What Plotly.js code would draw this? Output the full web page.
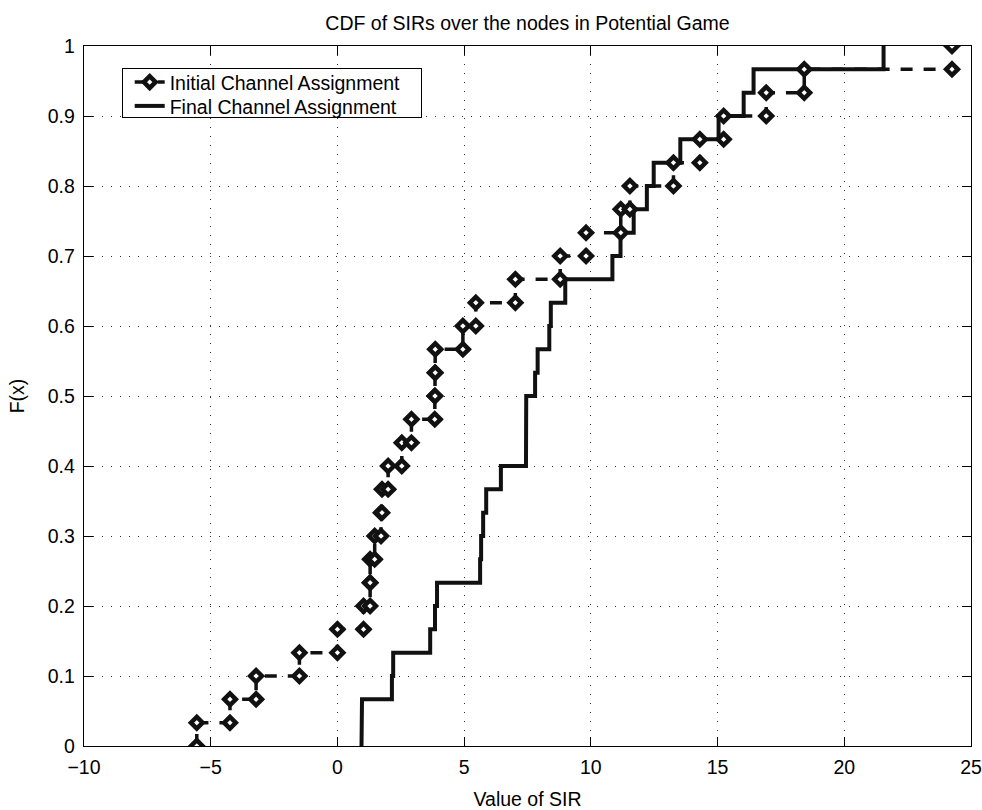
<!DOCTYPE html>
<html>
<head>
<meta charset="utf-8">
<script src="https://cdn.plot.ly/plotly-3.0.1.min.js"></script>
<style>html,body{margin:0;padding:0;background:#fff;}#chart{width:982px;height:810px;}</style>
</head>
<body>
<div id="chart"></div>
<script>
// Sorted SIR samples (30 nodes)
const initialSIR = [-5.55, -4.24, -3.21, -1.5, 0.0, 1.03, 1.29, 1.29, 1.47, 1.72,
                    1.76, 2.0, 2.54, 2.92, 3.84, 3.85, 3.86, 4.95, 5.46, 7.02,
                    8.79, 9.81, 11.18, 11.54, 13.26, 14.3, 15.24, 16.92, 18.42, 24.25];
const finalSIR = [0.95, 0.97, 2.15, 2.2, 3.66, 3.85, 3.93, 5.63, 5.67, 5.75,
                  5.87, 6.45, 7.44, 7.44, 7.45, 7.8, 7.9, 8.36, 8.42, 8.99,
                  10.85, 11.17, 11.69, 12.21, 12.48, 13.53, 15.04, 16.03, 16.42, 21.55];
const seriesNames = ["Initial Channel Assignment", "Final Channel Assignment"];
const xTicks = [-10, -5, 0, 5, 10, 15, 20, 25];
const yTicks = [0, 0.1, 0.2, 0.3, 0.4, 0.5, 0.6, 0.7, 0.8, 0.9, 1];

// Empirical CDF staircase vertices: (x_k,(k-1)/n) -> (x_k,k/n)
function ecdfSteps(vals) {
  const n = vals.length, xs = [], ys = [];
  vals.forEach((v, i) => { xs.push(v, v); ys.push(i / n, (i + 1) / n); });
  return {x: xs, y: ys};
}
const ini = ecdfSteps(initialSIR);
const fin = ecdfSteps(finalSIR);

const font = {family: "Liberation Sans, Arial, Helvetica, sans-serif", size: 19.5, color: "#000"};

const traces = [
  {x: fin.x, y: fin.y, name: seriesNames[1], mode: "lines", legendrank: 2,
   line: {color: "#111", width: 4}},
  {x: ini.x, y: ini.y, name: seriesNames[0], mode: "lines+markers", legendrank: 1,
   line: {color: "#111", width: 3.5, dash: "12px,11px"},
   marker: {symbol: "diamond", size: 9, color: "#fff", line: {color: "#111", width: 4.5}}}
];

const axisCommon = {
  showline: true, linecolor: "#000", linewidth: 1.3, mirror: "ticks",
  ticks: "inside", ticklen: 9, tickwidth: 1, tickcolor: "#000",
  showgrid: true, gridcolor: "#333", gridwidth: 1, griddash: "1px,8px",
  zeroline: false, tickfont: font
};

const layout = {
  width: 982, height: 810,
  margin: {l: 84, r: 11, t: 46, b: 64},
  paper_bgcolor: "#fff", plot_bgcolor: "#fff",
  font: font,
  title: {text: "CDF of SIRs over the nodes in Potential Game", font: font,
          x: 0.5, xref: "paper", xanchor: "center", y: 1 - 23 / 810, yref: "container", yanchor: "middle"},
  xaxis: Object.assign({}, axisCommon, {
    range: [-10, 25], tickmode: "array", tickvals: xTicks, ticklabelstandoff: 3,
    title: {text: "Value of SIR", font: font, standoff: 19}
  }),
  yaxis: Object.assign({}, axisCommon, {
    range: [0, 1], tickmode: "array", tickvals: yTicks, ticklabelstandoff: 4,
    title: {text: "F(x)", font: font, standoff: 18}
  }),
  showlegend: true,
  legend: {x: 0.0425, y: 0.968, xanchor: "left", yanchor: "top",
           bgcolor: "#fff", bordercolor: "#000", borderwidth: 1,
           font: font, tracegroupgap: 0, itemwidth: 30}
};

Plotly.newPlot("chart", traces, layout, {displayModeBar: false, staticPlot: true}).then(() => {
  // tighten legend rows to match the reference box (approx. 299 x 49 px)
  const leg = document.querySelector(".legend");
  if (!leg) return;
  const items = leg.querySelectorAll(".traces");
  const rowCenters = [13.7, 37.5];
  items.forEach((t, i) => {
    const m = /translate\(\s*([-\d.]+)[ ,]+([-\d.]+)\s*\)/.exec(t.getAttribute("transform") || "");
    const x0 = m ? parseFloat(m[1]) : 0;
    t.setAttribute("transform", "translate(" + (x0 + 7) + "," + rowCenters[i] + ")");
  });
  const bg = leg.querySelector("rect.bg");
  if (bg) { bg.setAttribute("height", 49); bg.setAttribute("width", 299); }
  leg.querySelectorAll("[clip-path]").forEach(el => el.removeAttribute("clip-path"));
  const sb = leg.querySelector(".scrollbar");
  if (sb) sb.remove();
});
</script>
</body>
</html>
